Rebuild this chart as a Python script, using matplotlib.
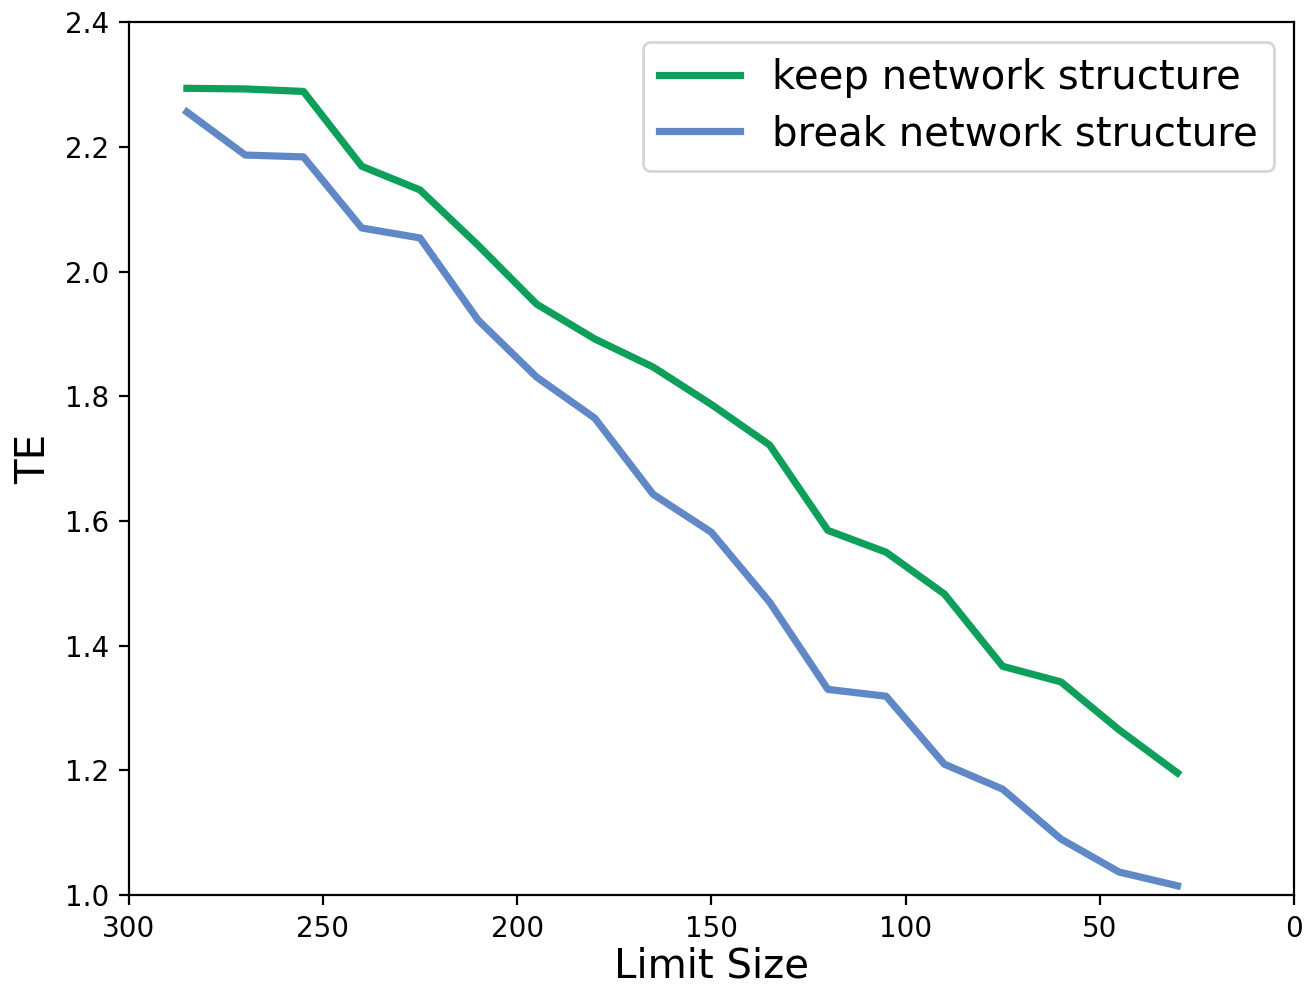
import numpy as np
import matplotlib.pyplot as plt

limit_size = [285, 270, 255, 240, 225, 210, 195, 180, 165, 150, 135, 120, 105, 90, 75, 60, 45, 30]
te_keep = [2.294, 2.293, 2.289, 2.169, 2.131, 2.042, 1.948, 1.892, 1.847, 1.787, 1.722, 1.585,
           1.550, 1.483, 1.367, 1.342, 1.265, 1.196]
te_break = [2.256, 2.187, 2.184, 2.070, 2.054, 1.922, 1.831, 1.765, 1.643, 1.582, 1.470, 1.330,
            1.319, 1.210, 1.170, 1.090, 1.037, 1.015]

fig = plt.figure(figsize=(6.565, 4.94), dpi=200)
ax = fig.add_axes([0.098, 0.094, 0.8875, 0.8835])

ax.plot(limit_size, te_keep, color='#0e9f5a', lw=2.6, label='keep network structure')
ax.plot(limit_size, te_break, color='#6088c6', lw=2.6, label='break network structure')

ax.set_xlim(300, 0)
ax.set_ylim(1.0, 2.4)
ax.tick_params(labelsize=10)
ax.set_xlabel('Limit Size', fontsize=14.5, labelpad=1.5)
ax.set_ylabel('TE', fontsize=14.5)
ax.legend(fontsize=14.5, loc='upper right', labelspacing=0.4, handletextpad=0.8)

plt.savefig('out.png', dpi=200)
